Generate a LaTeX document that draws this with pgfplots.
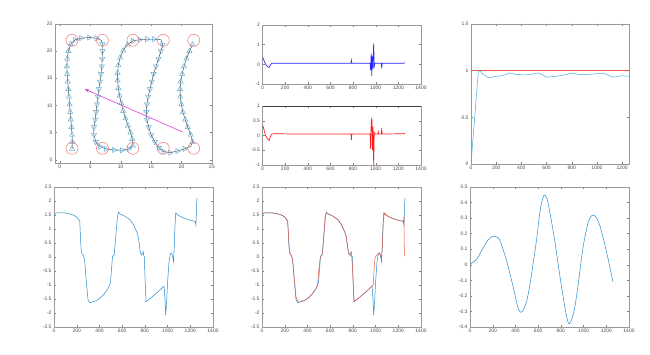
\documentclass[border=0pt]{standalone}
\usepackage{fontspec}
\setmainfont{Liberation Sans}
\usepackage{pgfplots}
\pgfplotsset{compat=1.18}
\usetikzlibrary{arrows.meta}
\definecolor{mblue}{RGB}{40,140,205}
\definecolor{mcyan}{RGB}{60,175,225}
\definecolor{morange}{RGB}{232,90,70}
\definecolor{tri}{RGB}{90,170,215}
\definecolor{circ}{RGB}{240,120,120}
\definecolor{magent}{RGB}{220,60,220}
\definecolor{pblue}{RGB}{40,40,255}
\definecolor{pred}{RGB}{255,30,30}
\pgfplotsset{mat/.style={scale only axis, anchor=south west,
  axis line style={black!40}, tick style={black!50, thin}, tick align=inside,
  major tick length=2bp,
  ticklabel style={font=\fontsize{5}{6}\selectfont, text=black!70},
  xticklabel style={yshift=1bp}, yticklabel style={xshift=1bp},
  /pgf/number format/assume math mode=true,
  /pgf/number format/fixed, /pgf/number format/1000 sep={},
  scaled ticks=false, clip=true}}
\begin{document}
\begin{tikzpicture}
\path[fill=white, use as bounding box] (0,0) rectangle (650bp,355bp);
% ---------- P1 trajectory ----------
\begin{axis}[mat, at={(55bp,192bp)}, width=157bp, height=139bp,
  xmin=-0.8, xmax=25, ymin=-0.6, ymax=25, xtick={0,5,...,25}, ytick={0,5,...,25}]
\addplot[black!80, line width=0.4bp] coordinates {
(2,2) (2.05,3.3) (2,4.6) (1.9,6) (1.8,7.4) (1.7,8.8) (1.6,10.2) (1.5,11.6) (1.4,13) (1.3,14.4) (1.2,15.8) (1.15,17.2) (1.2,18.6) (1.4,20) (1.8,21.3) (2.5,22.1)
(3.5,22.4) (4.8,22.5) (6.0,22.4) (6.8,22)
(7,21.3) (7,20) (6.95,18.6) (6.9,17.2) (6.75,15.8) (6.6,14.4) (6.4,13) (6.25,11.6) (6.1,10.2) (5.95,8.8) (5.8,7.4) (5.6,6) (5.6,4.6) (5.9,3.3) (6.6,2.4)
(7.6,2) (8.9,1.8) (10.2,1.75) (11.3,2)
(12,2.6) (11.9,3.8) (11.6,5) (11.2,6.3) (10.8,7.6) (10.4,9) (10.1,10.4) (9.8,11.8) (9.6,13.2) (9.5,14.6) (9.5,16) (9.6,17.4) (9.9,18.8) (10.4,20.1) (11.1,21.2) (12,21.9)
(13.1,22.1) (14.3,22.2) (15.5,22.2) (16.6,22.1)
(16.9,21.2) (16.6,20) (16.2,18.6) (15.8,17.2) (15.4,15.8) (15.1,14.4) (14.8,13) (14.5,11.6) (14.3,10.2) (14.2,8.8) (14.3,7.4) (14.6,6) (15,4.6) (15.6,3.3) (16.3,2.2) (17,1.5)
(18.1,1.3) (19.3,1.6) (20.5,2.0) (21.5,2.5)
(21.8,3.3) (21.5,4.6) (21,6) (20.6,7.4) (20.2,8.8) (19.95,10.2) (19.8,11.6) (19.75,13) (19.85,14.4) (20.1,15.8) (20.4,17.2) (20.8,18.6) (21.3,20) (21.8,21.2)};
\addplot[only marks, mark=triangle, mark size=3bp, mark options={draw=tri, line width=0.45bp}] coordinates {
(2,2) (2.05,3.3) (2,4.6) (1.9,6) (1.8,7.4) (1.7,8.8) (1.6,10.2) (1.5,11.6) (1.4,13) (1.3,14.4) (1.2,15.8) (1.15,17.2) (1.2,18.6) (1.4,20) (1.8,21.3)
(12,2.6) (11.9,3.8) (11.6,5) (11.2,6.3) (10.8,7.6) (10.4,9) (10.1,10.4) (9.8,11.8) (9.6,13.2) (9.5,14.6) (9.5,16) (9.6,17.4) (9.9,18.8) (10.4,20.1) (11.1,21.2)
(21.8,3.3) (21.5,4.6) (21,6) (20.6,7.4) (20.2,8.8) (19.95,10.2) (19.8,11.6) (19.75,13) (19.85,14.4) (20.1,15.8) (20.4,17.2) (20.8,18.6) (21.3,20) (21.8,21.2)};
\addplot[only marks, mark=triangle, mark size=3bp, mark options={draw=tri, line width=0.45bp, rotate=180}] coordinates {
(7,21.3) (7,20) (6.95,18.6) (6.9,17.2) (6.75,15.8) (6.6,14.4) (6.4,13) (6.25,11.6) (6.1,10.2) (5.95,8.8) (5.8,7.4) (5.6,6) (5.6,4.6) (5.9,3.3)
(16.9,21.2) (16.6,20) (16.2,18.6) (15.8,17.2) (15.4,15.8) (15.1,14.4) (14.8,13) (14.5,11.6) (14.3,10.2) (14.2,8.8) (14.3,7.4) (14.6,6) (15,4.6) (15.6,3.3) (16.3,2.2)};
\addplot[only marks, mark=triangle, mark size=3bp, mark options={draw=tri, line width=0.45bp, rotate=-90}] coordinates {
(2.5,22.1) (3.5,22.4) (4.8,22.5) (6.0,22.4) (6.6,2.4) (7.6,2) (8.9,1.8) (10.2,1.75) (11.3,2)
(12,21.9) (13.1,22.1) (14.3,22.2) (15.5,22.2) (17,1.5) (18.1,1.3) (19.3,1.6) (20.5,2.0)};
\addplot[only marks, mark=o, mark size=6bp, mark options={draw=circ, line width=0.5bp}] coordinates {
(2,22) (7,22) (12,22) (17,22) (22,22) (2,2.1) (7,2.1) (12,2.1) (17,2.1) (22,2.1)};
\addplot[magent, line width=0.6bp, -{Stealth[length=4bp,width=3bp]}] coordinates {(20.2,5.1) (4.1,13)};
\end{axis}
% ---------- P2a ----------
\begin{axis}[mat, at={(262.5bp,271bp)}, width=158.5bp, height=59bp,
  xmin=0, xmax=1400, ymin=-1, ymax=2, xtick={0,200,...,1400}, ytick={-1,0,1,2}]
\addplot[pblue, line width=0.7bp] coordinates {
(0,0.35) (8,0.28) (18,0.12) (30,-0.02) (45,-0.12) (58,-0.16) (68,-0.05) (80,0.04) (100,0.06) (150,0.05) (300,0.05) (500,0.05) (700,0.05) (782,0.05) (785,0.2) (789,0.05) (950,0.05) (955,-0.3) (960,0.55) (965,-0.6) (970,0.4) (975,-0.2) (982,1.05) (987,-0.1) (993,0.05) (1050,0.05) (1053,-0.2) (1056,0.05) (1250,0.06) (1259,0.08)};
\end{axis}
% ---------- P2b ----------
\begin{axis}[mat, at={(262.5bp,190bp)}, width=158.5bp, height=59bp,
  xmin=0, xmax=1400, ymin=-1, ymax=1, xtick={0,200,...,1400}, ytick={-1,-0.5,0,0.5,1}]
\addplot[black!75, line width=0.9bp] coordinates {(0,1) (1400,1)};
\addplot[pred, line width=0.7bp] coordinates {
(0,0.35) (8,0.28) (18,0.12) (30,-0.02) (45,-0.12) (58,-0.17) (68,-0.05) (80,0.04) (100,0.06) (300,0.05) (600,0.05) (782,0.05) (785,-0.15) (789,0.05) (950,0.05) (955,-0.45) (960,0.45) (966,0.6) (971,-0.5) (976,0.3) (982,-1.0) (987,0.1) (993,0.05) (1020,0.05) (1023,0.12) (1026,0.05) (1050,0.05) (1053,0.25) (1056,0.05) (1250,0.06) (1259,0.08)};
\end{axis}
% ---------- P3 ----------
\begin{axis}[mat, at={(471bp,191bp)}, width=158bp, height=140bp,
  xmin=0, xmax=1255, ymin=0, ymax=1.5, xtick={0,200,...,1200}, ytick={0,0.5,1,1.5}]
\addplot[morange, line width=0.4bp] coordinates {(0,1) (1255,1)};
\addplot[mcyan, line width=0.5bp] coordinates {
(0,0) (58,0.99) (71,1.0) (98,0.96) (137,0.925) (170,0.93) (203,0.94) (240,0.945) (270,0.955) (309,0.975) (362,0.958) (420,0.955) (468,0.958) (534,0.975) (570,0.955) (600,0.93) (640,0.935) (679,0.94) (740,0.955) (798,0.975) (864,0.958) (930,0.96) (996,0.967) (1062,0.967) (1100,0.945) (1128,0.93) (1194,0.945) (1255,0.94)};
\end{axis}
% ---------- P4 ----------
\begin{axis}[mat, at={(54bp,28bp)}, width=159bp, height=140bp,
  xmin=0, xmax=1400, ymin=-2.5, ymax=2.5, xtick={0,200,...,1400}, ytick={-2.5,-2,...,2.5}]
\addplot[mblue, line width=0.5bp] coordinates {
(0,1.48) (10,1.55) (26,1.58) (60,1.58) (100,1.57) (138,1.54) (170,1.5) (200,1.43) (215,1.35) (227,1.27) (232,0.8) (237,0.4) (241,0.19) (248,0.1) (256,0.07) (264,0.0) (271,-0.17) (285,-0.9) (300,-1.54) (315,-1.63) (340,-1.6) (370,-1.56) (404,-1.48) (440,-1.33) (477,-1.12) (490,-1.0) (498,-0.89) (507,-0.4) (515,0.01) (522,0.07) (530,0.07) (545,0.8) (558,1.4) (566,1.6) (580,1.54) (620,1.47) (669,1.33) (700,1.15) (727,0.91) (740,0.75) (750,0.5) (757,0.25) (765,0.1) (772,0.07) (779,0.12) (786,0.19) (790,0.05) (795,0.01) (802,-0.8) (810,-1.6) (850,-1.47) (900,-1.3) (940,-1.15) (969,-1.04) (977,-1.5) (984,-2.08) (990,-1.7) (1000,-0.9) (1012,-0.2) (1022,0.07) (1030,0.15) (1037,0.13) (1045,0.0) (1052,-0.17) (1058,0.3) (1065,1.1) (1072,1.57) (1085,1.52) (1110,1.45) (1150,1.38) (1200,1.31) (1243,1.27) (1249,1.15) (1254,1.6) (1258,2.1)};
\end{axis}
% ---------- P5 ----------
\begin{axis}[mat, at={(262bp,28bp)}, width=159bp, height=140bp,
  xmin=0, xmax=1400, ymin=-2.5, ymax=2.5, xtick={0,200,...,1400}, ytick={-2.5,-2,...,2.5}]
\addplot[mblue, line width=0.5bp] coordinates {
(0,1.48) (10,1.55) (26,1.58) (60,1.58) (100,1.57) (138,1.54) (170,1.5) (200,1.43) (215,1.35) (227,1.27) (232,0.8) (237,0.4) (241,0.19) (248,0.1) (256,0.07) (264,0.0) (271,-0.17) (285,-0.9) (300,-1.54) (315,-1.63) (340,-1.6) (370,-1.56) (404,-1.48) (440,-1.33) (477,-1.12) (490,-1.0) (498,-0.89) (507,-0.4) (515,0.01) (522,0.07) (530,0.07) (545,0.8) (558,1.4) (566,1.6) (580,1.54) (620,1.47) (669,1.33) (700,1.15) (727,0.91) (740,0.75) (750,0.5) (757,0.25) (765,0.1) (772,0.07) (779,0.12) (786,0.19) (790,0.05) (795,0.01) (802,-0.8) (810,-1.6) (850,-1.47) (900,-1.3) (940,-1.15) (969,-1.04) (977,-1.5) (984,-2.08) (990,-1.7) (1000,-0.9) (1012,-0.2) (1022,0.07) (1030,0.15) (1037,0.13) (1045,0.0) (1052,-0.17) (1058,0.3) (1065,1.1) (1072,1.57) (1085,1.52) (1110,1.45) (1150,1.38) (1200,1.31) (1243,1.27) (1249,1.15) (1254,1.6) (1258,2.1)};
\addplot[morange, line width=0.5bp] coordinates {
(0,1.55) (26,1.58) (60,1.58) (100,1.57) (138,1.54) (170,1.5) (200,1.43) (215,1.35) (225,1.25) (232,0.9) (240,0.3) (250,0.1) (260,0.05) (270,-0.1) (285,-0.8) (300,-1.45) (315,-1.58) (340,-1.58) (370,-1.55) (404,-1.48) (440,-1.33) (477,-1.12) (490,-0.95) (500,-0.5) (510,-0.1) (520,0.05) (532,0.1) (545,0.8) (556,1.45) (566,1.58) (580,1.55) (620,1.47) (669,1.33) (700,1.15) (727,0.91) (740,0.75) (752,0.4) (762,0.15) (775,0.08) (790,0.02) (798,-0.5) (808,-1.45) (815,-1.58) (850,-1.47) (900,-1.3) (940,-1.15) (980,-1.0) (985,-0.6) (990,-0.2) (995,-0.05) (1005,0.05) (1022,0.1) (1035,0.15) (1045,0.05) (1052,-0.1) (1060,0.4) (1068,1.3) (1078,1.57) (1110,1.45) (1150,1.38) (1200,1.31) (1245,1.28) (1251,1.45) (1253,0.02)};
\end{axis}
% ---------- P6 ----------
\begin{axis}[mat, at={(470bp,28bp)}, width=159bp, height=140bp,
  xmin=0, xmax=1400, ymin=-0.4, ymax=0.5, xtick={0,200,...,1400}, ytick={-0.4,-0.3,...,0.5}]
\addplot[mblue, line width=0.5bp, smooth] coordinates {
(0,0) (15,0.01) (59,0.036) (117,0.11) (160,0.16) (200,0.183) (235,0.178) (264,0.155) (322,0.026) (381,-0.145) (420,-0.27) (445,-0.305) (470,-0.29) (500,-0.23) (527,-0.13) (556,0.01) (586,0.16) (610,0.31) (630,0.4) (655,0.448) (680,0.42) (710,0.31) (747,0.15) (791,-0.07) (835,-0.272) (860,-0.36) (875,-0.38) (895,-0.35) (920,-0.285) (952,-0.13) (996,0.115) (1040,0.27) (1070,0.315) (1089,0.32) (1115,0.3) (1142,0.255) (1170,0.18) (1200,0.09) (1230,-0.01) (1259,-0.11)};
\end{axis}
\end{tikzpicture}
\end{document}
